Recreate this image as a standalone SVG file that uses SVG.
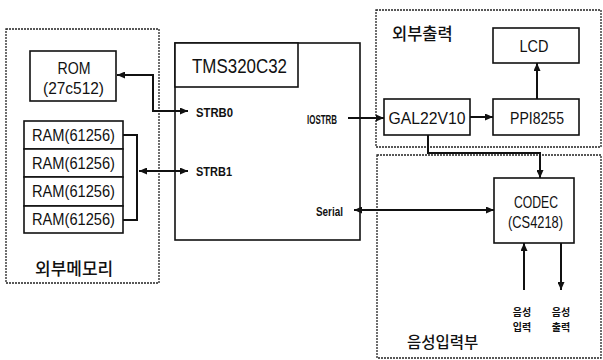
<svg xmlns="http://www.w3.org/2000/svg" width="603" height="360" viewBox="0 0 603 360">
<style>
.grp{fill:none;stroke:#222;stroke-width:1.3;stroke-dasharray:2 1}
.box{fill:#fff;stroke:#111;stroke-width:1.6}
.t{font-family:"Liberation Sans",Arial,sans-serif;fill:#111;text-anchor:middle;dominant-baseline:central}
.s{font-family:"Liberation Sans",Arial,sans-serif;font-weight:bold;font-size:12px;fill:#111;dominant-baseline:central}
.k{font-family:"Noto Sans CJK KR","Noto Sans",sans-serif;fill:#111;dominant-baseline:central}
.c{fill:none;stroke:#111;stroke-width:2}
</style>
<defs>
<marker id="ah" viewBox="0 0 8 7" refX="8" refY="3.5" markerWidth="8" markerHeight="7" markerUnits="userSpaceOnUse" orient="auto-start-reverse">
<path d="M0,0 L8,3.5 L0,7 z" fill="#111"/>
</marker>
</defs>
<rect width="603" height="360" fill="#fff"/>
<g id="group-memory">
<rect class="grp" x="6" y="29" width="153" height="254"/>
<text class="k" x="35" y="267" font-size="17" font-weight="500">외부메모리</text>
</g>
<g id="group-output">
<rect class="grp" x="376" y="10" width="225" height="137"/>
<text class="k" x="392" y="33" font-size="16.5" font-weight="500">외부출력</text>
</g>
<g id="group-voice">
<rect class="grp" x="377" y="155" width="224" height="203"/>
<text class="k" x="407" y="341" font-size="15.5" font-weight="500">음성입력부</text>
</g>
<g id="rom">
<rect class="box" x="30" y="51" width="86" height="50"/>
<text class="t" x="74" y="68" font-size="16" textLength="33" lengthAdjust="spacingAndGlyphs">ROM</text>
<text class="t" x="73.5" y="88" font-size="16" textLength="61" lengthAdjust="spacingAndGlyphs">(27c512)</text>
</g>
<g id="ram">
<rect class="box" x="24" y="121" width="99" height="28"/>
<rect class="box" x="24" y="149" width="99" height="28"/>
<rect class="box" x="24" y="177" width="99" height="29"/>
<rect class="box" x="24" y="206" width="99" height="27"/>
<text class="t" x="73.5" y="135" font-size="16" textLength="83" lengthAdjust="spacingAndGlyphs">RAM(61256)</text>
<text class="t" x="73.5" y="163" font-size="16" textLength="83" lengthAdjust="spacingAndGlyphs">RAM(61256)</text>
<text class="t" x="73.5" y="191" font-size="16" textLength="83" lengthAdjust="spacingAndGlyphs">RAM(61256)</text>
<text class="t" x="73.5" y="219" font-size="16" textLength="83" lengthAdjust="spacingAndGlyphs">RAM(61256)</text>
</g>
<g id="tms">
<rect class="box" x="175" y="43" width="185" height="197"/>
<rect class="box" x="175" y="43" width="123" height="44"/>
<text class="t" x="239.5" y="66" font-size="20" textLength="95" lengthAdjust="spacingAndGlyphs">TMS320C32</text>
<text class="s" x="196" y="113" textLength="37" lengthAdjust="spacingAndGlyphs">STRB0</text>
<text class="s" x="196" y="172" textLength="36" lengthAdjust="spacingAndGlyphs">STRB1</text>
<text class="s" x="307" y="120" textLength="30" lengthAdjust="spacingAndGlyphs">IOSTRB</text>
<text class="s" x="316" y="212" textLength="27" lengthAdjust="spacingAndGlyphs">Serial</text>
</g>
<g id="gal">
<rect class="box" x="384" y="99" width="86" height="36"/>
<text class="t" x="427" y="118" font-size="17" textLength="77" lengthAdjust="spacingAndGlyphs">GAL22V10</text>
</g>
<g id="ppi">
<rect class="box" x="493" y="99" width="86" height="36"/>
<text class="t" x="537" y="118" font-size="17" textLength="54" lengthAdjust="spacingAndGlyphs">PPI8255</text>
</g>
<g id="lcd">
<rect class="box" x="493" y="28" width="86" height="35"/>
<text class="t" x="534" y="46" font-size="17" textLength="29" lengthAdjust="spacingAndGlyphs">LCD</text>
</g>
<g id="codec">
<rect class="box" x="494" y="178" width="80" height="65"/>
<text class="t" x="536" y="202" font-size="17" textLength="44" lengthAdjust="spacingAndGlyphs">CODEC</text>
<text class="t" x="535.5" y="222" font-size="17" textLength="55" lengthAdjust="spacingAndGlyphs">(CS4218)</text>
</g>
<g id="voice-labels">
<text class="k" x="522" y="311" font-size="10" font-weight="bold" text-anchor="middle">음성</text>
<text class="k" x="522" y="326" font-size="10" font-weight="bold" text-anchor="middle">입력</text>
<text class="k" x="561" y="311" font-size="10" font-weight="bold" text-anchor="middle">음성</text>
<text class="k" x="561" y="326" font-size="10" font-weight="bold" text-anchor="middle">출력</text>
</g>
<g id="connectors">
<polyline class="c" points="188,111 153,111 153,75 117,75" marker-start="url(#ah)" marker-end="url(#ah)"/>
<polyline class="c" points="123,135 137,135 137,220 123,220" stroke-width="1.6"/>
<line class="c" x1="139" y1="171" x2="188" y2="171" marker-start="url(#ah)" marker-end="url(#ah)"/>
<line class="c" x1="348" y1="118" x2="384" y2="118" marker-end="url(#ah)"/>
<line class="c" x1="470" y1="117" x2="493" y2="117" marker-end="url(#ah)"/>
<line class="c" x1="537" y1="99" x2="537" y2="63" marker-end="url(#ah)"/>
<polyline class="c" points="428,135 428,153 540,153 540,178" marker-end="url(#ah)"/>
<line class="c" x1="354" y1="210" x2="494" y2="210" marker-start="url(#ah)" marker-end="url(#ah)"/>
<line class="c" x1="524" y1="290" x2="524" y2="243" marker-end="url(#ah)"/>
<line class="c" x1="561" y1="243" x2="561" y2="290" marker-end="url(#ah)"/>
</g>
</svg>
